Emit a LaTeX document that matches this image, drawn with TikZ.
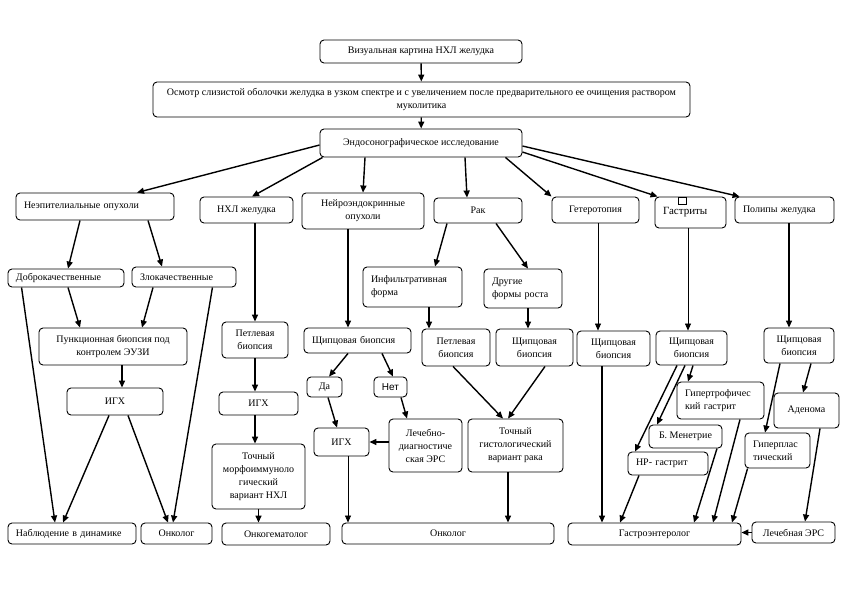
\documentclass[tikz,border=0pt]{standalone}
\usepackage{fontspec}
\setmainfont{Liberation Serif}
\setsansfont{Liberation Sans}
\usepackage{tikz}
\usetikzlibrary{arrows.meta}

\begin{document}
\begin{tikzpicture}[x=1pt,y=-1pt,
  font=\fontsize{10}{13}\selectfont,
  blk/.style={draw,line width=0.9pt,rounded corners=4pt,inner xsep=3pt,
              inner ysep=1pt,align=center},
  lft/.style={blk,align=left,inner xsep=8pt},
  sz/.style 2 args={minimum width=#1pt,minimum height=#2pt},
  arr/.style={-{Triangle[length=7pt,width=6pt]},line width=1.4pt},
  thn/.style={arr,line width=0.7pt}
]
\useasboundingbox (0,0) rectangle (842,595);

% top chain
\node[blk,sz={202}{23}] (vis) at (421,51.5) {Визуальная картина НХЛ желудка};
\node[blk,sz={537}{35}] (osm) at (421.5,99.5)
  {Осмотр слизистой оболочки желудка в узком спектре и с увеличением после предварительного ее очищения раствором\\муколитика};
\node[blk,sz={202}{28}] (endo) at (421,143) {Эндосонографическое исследование};

% first row
\node[lft,sz={158}{27},text width=142pt] (neepit) at (95,206.5) {Неэпителиальные опухоли};
\node[blk,sz={93}{26}] (nhl) at (246.5,210) {НХЛ желудка};
\node[blk,sz={122}{36}] (neuro) at (363,211) {Нейроэндокринные\\опухоли};
\node[blk,sz={88}{25}] (rak) at (478,210.5) {Рак};
\node[blk,sz={87}{26}] (getero) at (595.5,210) {Гетеротопия};
\node[lft,sz={71}{31},text width=55pt] (gastr) at (690.5,212.5)
  {\fontsize{11}{13}\selectfont Гастриты};
\node[lft,sz={99}{26},text width=83pt] (polyp) at (784.5,210) {Полипы желудка};
\draw[line width=0.7pt] (678,197) rectangle (686,204);

% second row
\node[lft,sz={116}{18},text width=100pt] (dobro) at (66,278) {Доброкачественные};
\node[lft,sz={104}{20},text width=88pt] (zlo) at (184,277) {Злокачественные};
\node[lft,sz={99}{40},text width=83pt] (infilt) at (412.5,287) {Инфильтративная\\форма};
\node[lft,sz={78}{39},text width=62pt] (drug) at (523,288.5) {Другие\\формы роста};

% biopsies
\node[blk,sz={148}{37}] (punk) at (113,346.5) {Пункционная биопсия под\\контролем ЭУЗИ};
\node[blk,sz={66}{36}] (petl1) at (255,340) {Петлевая\\биопсия};
\node[lft,sz={107}{25},text width=91pt] (shch1) at (357.5,340.5) {Щипцовая биопсия};
\node[blk,sz={68}{37}] (petl2) at (456,347.5) {Петлевая\\биопсия};
\node[blk,sz={77}{37}] (shch2) at (534.5,347.5) {Щипцовая\\биопсия};
\node[blk,sz={73}{35}] (shch3) at (613.5,348.5) {Щипцовая\\биопсия};
\node[blk,sz={71}{34}] (shch4) at (691.5,348) {Щипцовая\\биопсия};
\node[blk,sz={70}{35}] (shch5) at (799,345.5) {Щипцовая\\биопсия};

% results
\node[blk,sz={96}{27}] (igx1) at (115,401.5) {ИГХ};
\node[blk,sz={79}{23}] (igx2) at (258.5,403.5) {ИГХ};
\node[blk,sz={35}{20}] (da) at (324.5,387) {Да};
\node[blk,sz={33}{20}] (net) at (390.5,387) {\sffamily Нет};
\node[blk,sz={55}{28}] (igx3) at (341.5,442) {ИГХ};
\node[blk,sz={73}{53}] (lech) at (425.5,445.5) {Лечебно-\\диагностиче\\ская ЭРС};
\node[blk,sz={95}{53}] (tochrak) at (515.5,445.5) {Точный\\гистологический\\вариант рака};
\node[blk,sz={93}{65}] (tochnhl) at (258.5,476.5) {Точный\\морфоиммуноло\\гический\\вариант НХЛ};
\node[lft,sz={87}{37},text width=71pt] (gipertrof) at (720.5,400.5) {Гипертрофичес\\кий гастрит};
\node[blk,sz={65}{35}] (adenoma) at (806.5,410.5) {Аденома};
\node[blk,sz={73}{23}] (menetrie) at (685.5,436.5) {Б. Менетрие};
\node[lft,sz={80}{23},text width=64pt] (hp) at (668,463.5) {HP- гастрит};
\node[lft,sz={65}{35},text width=49pt] (giperpl) at (777.5,450.5) {Гиперплас\\тический};

% bottom row
\node[lft,sz={128}{21},text width=112pt] (nabl) at (72,533.5) {Наблюдение в динамике};
\node[blk,sz={71}{21}] (onk1) at (176.5,533.5) {Онколог};
\node[blk,sz={108}{22}] (onkogem) at (276,534) {Онкогематолог};
\node[blk,sz={212}{21}] (onk2) at (448,533.5) {Онколог};
\node[blk,sz={173}{22}] (gastroent) at (654.5,534) {Гастроэнтеролог};
\node[blk,sz={83}{21}] (lechers) at (793.5,532.5) {Лечебная ЭРС};

% connectors
\draw[arr] (vis) -- (osm);
\draw[arr] (osm) -- (endo);
\draw[arr] ([yshift=-2pt]endo.west) -- ([xshift=42pt]neepit.north);
\draw[arr] ([xshift=3pt]endo.south west) -- ([xshift=5.5pt]nhl.north);
\draw[arr] ([xshift=-56pt]endo.south) -- (neuro.north);
\draw[arr] ([xshift=44pt]endo.south) -- ([xshift=-11pt]rak.north);
\draw[arr] ([xshift=-17pt]endo.south east) -- (getero.north west);
\draw[arr] ([yshift=-9pt]endo.east) -- ([xshift=3pt]gastr.north west);
\draw[arr] ([yshift=-3pt]endo.east) -- ([xshift=5pt]polyp.north west);

\draw[arr] ([xshift=-15pt]neepit.south) -- ([xshift=2pt]dobro.north);
\draw[arr] ([xshift=53pt]neepit.south) -- ([xshift=-22pt]zlo.north);
\draw[arr] ([xshift=2pt]dobro.south) -- ([xshift=-33pt]punk.north);
\draw[arr] ([xshift=-31pt]zlo.south) -- ([xshift=29pt]punk.north);
\draw[arr] ([xshift=14pt]dobro.south west) -- ([xshift=-17pt]nabl.north);
\draw[arr] ([xshift=-24pt]zlo.south east) -- ([xshift=-3.5pt]onk1.north);
\draw[arr] ([xshift=9pt]punk.south) -- ([xshift=7pt]igx1.north);
\draw[arr] ([xshift=-6pt]igx1.south) -- ([xshift=-9pt]nabl.north);
\draw[arr] ([xshift=13pt]igx1.south) -- ([xshift=-8.5pt]onk1.north);

\draw[arr] (petl1.north |- nhl.south) -- (petl1.north);
\draw[arr] (petl1.south) -- (petl1.south |- igx2.north);
\draw[arr] (igx2.south -| petl1.south) -- (tochnhl.north -| petl1.south);
\draw[arr] (tochnhl.south) -- (tochnhl.south |- onkogem.north);

\draw[arr] ([xshift=-15pt]neuro.south) -- ([xshift=-15pt]neuro.south |- shch1.north);
\draw[arr] ([xshift=-9.5pt]shch1.south) -- ([xshift=4.5pt]da.north);
\draw[arr] ([xshift=24.5pt]shch1.south) -- ([xshift=2.5pt]net.north);
\draw[arr] ([xshift=3.5pt]da.south) -- ([xshift=-4.5pt]igx3.north);
\draw[arr] ([xshift=10.5pt]net.south) -- ([xshift=-18.5pt]lech.north);
\draw[arr] (igx3.east -| lech.west) -- (igx3.east);
\draw[thn] ([xshift=6.5pt]igx3.south) -- ([xshift=6.5pt]igx3.south |- onk2.north);

\draw[arr] ([xshift=-31pt]rak.south) -- ([xshift=22.5pt]infilt.north);
\draw[arr] ([xshift=18pt]rak.south) -- ([xshift=5pt]drug.north);
\draw[arr] ([xshift=16.5pt]infilt.south) -- ([xshift=16.5pt]infilt.south |- petl2.north);
\draw[arr] ([xshift=5pt]drug.south) -- ([xshift=5pt]drug.south |- shch2.north);
\draw[arr] ([xshift=-3pt]petl2.south) -- ([xshift=-12.5pt]tochrak.north);
\draw[arr] ([xshift=10.5pt]shch2.south) -- ([xshift=-7.5pt]tochrak.north);
\draw[arr] ([xshift=-7.5pt]tochrak.south) -- ([xshift=-7.5pt]tochrak.south |- onk2.north);

\draw[thn] ([xshift=2.5pt]getero.south) -- ([xshift=2.5pt]getero.south |- shch3.north);
\draw[arr] ([xshift=-11.5pt]shch3.south) -- ([xshift=-11.5pt]shch3.south |- gastroent.north);

\draw[thn] ([xshift=-2.5pt]gastr.south) -- ([xshift=-2.5pt]gastr.south |- shch4.north);
\draw[arr] ([xshift=-14.5pt]shch4.south) -- ([xshift=-33pt]hp.north);
\draw[arr] ([xshift=-6.5pt]shch4.south) -- ([xshift=-28.5pt]menetrie.north);
\draw[arr] ([xshift=1.5pt]shch4.south) -- ([xshift=-32.5pt]gipertrof.north);
\draw[arr] ([xshift=-29pt]hp.south) -- ([xshift=-34.5pt]gastroent.north);
\draw[arr] ([xshift=31.5pt]menetrie.south) -- ([xshift=39.5pt]gastroent.north);
\draw[arr] ([xshift=19.5pt]gipertrof.south) -- ([xshift=58.5pt]gastroent.north);
\draw[arr] ([xshift=3pt]giperpl.south west) -- ([xshift=77.5pt]gastroent.north);

\draw[arr] ([xshift=4.5pt]polyp.south) -- ([xshift=4.5pt]polyp.south |- shch5.north);
\draw[arr] ([xshift=-19pt]shch5.south) -- ([xshift=-12.5pt]giperpl.north);
\draw[arr] ([xshift=12pt]shch5.south) -- ([xshift=-3.5pt]adenoma.north);
\draw[arr] ([xshift=13.5pt]adenoma.south) -- ([xshift=11.5pt]lechers.north);
\draw[arr] (lechers.west) -- (lechers.west -| gastroent.east);
\end{tikzpicture}
\end{document}
